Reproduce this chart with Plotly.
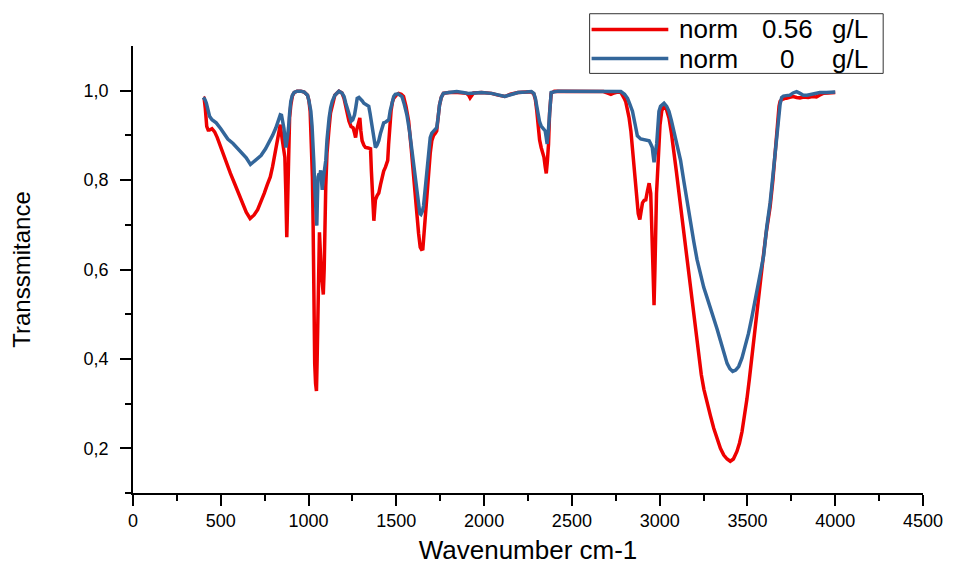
import plotly.graph_objects as go

# FTIR transmittance spectra, wavenumber (cm-1) vs normalised transmittance
wn_056 = [400, 405, 412, 420, 428, 436, 450, 465, 480, 493, 510, 531, 555, 578, 600, 625, 645, 667, 690, 710,
          730, 748, 765, 782, 795, 805, 815, 824, 832, 839, 845, 852, 860, 865, 870, 873, 876, 879, 883, 886,
          892, 899, 908, 918, 935, 956, 975, 994, 1002, 1009, 1015, 1022, 1026, 1028, 1032, 1035, 1040, 1045,
          1049, 1052, 1055, 1058, 1062, 1066, 1070, 1073, 1078, 1084, 1089, 1093, 1098, 1105, 1110, 1117, 1125,
          1135, 1150, 1173, 1190, 1202, 1215, 1230, 1242, 1254, 1262, 1268, 1273, 1277, 1285, 1292, 1298, 1305,
          1315, 1324, 1340, 1353, 1358, 1362, 1368, 1372, 1376, 1381, 1390, 1400, 1410, 1419, 1428, 1438, 1445,
          1451, 1456, 1462, 1470, 1478, 1485, 1500, 1513, 1528, 1541, 1555, 1570, 1585, 1598, 1608, 1617, 1627,
          1636, 1643, 1651, 1658, 1665, 1674, 1683, 1693, 1702, 1712, 1722, 1730, 1738, 1746, 1756, 1768, 1800,
          1850, 1900, 1912, 1920, 1928, 1940, 1985, 2042, 2080, 2118, 2150, 2193, 2240, 2269, 2283, 2292, 2300,
          2307, 2316, 2325, 2334, 2341, 2348, 2354, 2360, 2367, 2373, 2382, 2400, 2500, 2600, 2680, 2700, 2722,
          2740, 2760, 2779, 2790, 2798, 2807, 2817, 2826, 2836, 2845, 2855, 2862, 2869, 2878, 2887, 2895, 2902,
          2912, 2921, 2930, 2940, 2945, 2949, 2953, 2958, 2963, 2968, 2973, 2977, 2982, 2987, 2995, 3002, 3012,
          3025, 3035, 3045, 3053, 3067, 3081, 3095, 3110, 3124, 3138, 3152, 3166, 3180, 3195, 3209, 3223, 3237,
          3252, 3270, 3289, 3308, 3327, 3346, 3365, 3384, 3402, 3420, 3440, 3455, 3469, 3483, 3497, 3511, 3525,
          3540, 3554, 3568, 3582, 3592, 3606, 3618, 3629, 3645, 3658, 3670, 3680, 3686, 3695, 3714, 3723, 3740,
          3761, 3780, 3799, 3820, 3846, 3870, 3893, 3910, 3931, 3960, 3988, 4000]
t_056 = [0.985, 0.984, 0.960, 0.920, 0.912, 0.912, 0.915, 0.908, 0.895, 0.881, 0.862, 0.837, 0.815, 0.793, 0.770,
         0.745, 0.728, 0.714, 0.722, 0.734, 0.752, 0.771, 0.790, 0.807, 0.830, 0.851, 0.875, 0.895, 0.912, 0.924,
         0.905, 0.881, 0.860, 0.851, 0.780, 0.700, 0.672, 0.720, 0.830, 0.881, 0.940, 0.968, 0.988, 0.996, 0.999,
         0.999, 0.997, 0.990, 0.978, 0.954, 0.900, 0.807, 0.700, 0.610, 0.500, 0.390, 0.345, 0.328, 0.400, 0.500,
         0.560, 0.620, 0.683, 0.650, 0.600, 0.588, 0.570, 0.544, 0.600, 0.700, 0.786, 0.860, 0.900, 0.917, 0.950,
         0.968, 0.990, 0.999, 0.995, 0.983, 0.960, 0.932, 0.920, 0.917, 0.905, 0.895, 0.910, 0.917, 0.935, 0.939,
         0.910, 0.888, 0.878, 0.873, 0.872, 0.870, 0.820, 0.771, 0.730, 0.709, 0.730, 0.756, 0.765, 0.771, 0.790,
         0.807, 0.820, 0.829, 0.835, 0.844, 0.880, 0.917, 0.955, 0.975, 0.983, 0.990, 0.994, 0.992, 0.987, 0.965,
         0.932, 0.870, 0.807, 0.760, 0.720, 0.680, 0.650, 0.645, 0.646, 0.680, 0.720, 0.770, 0.822, 0.860, 0.888,
         0.900, 0.905, 0.910, 0.940, 0.968, 0.985, 0.994, 0.996, 0.996, 0.994, 0.990, 0.984, 0.990, 0.995, 0.996,
         0.994, 0.990, 0.987, 0.992, 0.996, 0.997, 0.997, 0.993, 0.980, 0.955, 0.917, 0.890, 0.873, 0.860, 0.851,
         0.830, 0.815, 0.840, 0.881, 0.950, 0.994, 0.999, 0.999, 0.999, 0.998, 0.995, 0.992, 0.995, 0.997, 0.996,
         0.990, 0.983, 0.975, 0.960, 0.939, 0.910, 0.865, 0.830, 0.790, 0.749, 0.725, 0.712, 0.730, 0.749, 0.755,
         0.756, 0.775, 0.793, 0.780, 0.771, 0.720, 0.625, 0.560, 0.520, 0.600, 0.720, 0.770, 0.807, 0.870, 0.924,
         0.955, 0.966, 0.963, 0.952, 0.939, 0.905, 0.866, 0.820, 0.771, 0.727, 0.683, 0.635, 0.588, 0.545, 0.500,
         0.452, 0.405, 0.365, 0.332, 0.300, 0.273, 0.245, 0.222, 0.200, 0.185, 0.176, 0.171, 0.176, 0.193, 0.212,
         0.237, 0.270, 0.310, 0.355, 0.405, 0.460, 0.515, 0.560, 0.603, 0.635, 0.680, 0.710, 0.740, 0.800, 0.866,
         0.930, 0.965, 0.976, 0.980, 0.983, 0.983, 0.985, 0.987, 0.985, 0.984, 0.986, 0.985, 0.987, 0.986, 0.990,
         0.994, 0.995, 0.997, 0.996]

wn_0 = [400, 410, 418, 428, 436, 450, 474, 500, 520, 540, 570, 597, 620, 645, 669, 690, 710, 729, 755, 776,
        795, 814, 828, 839, 846, 852, 860, 866, 871, 876, 880, 886, 892, 899, 908, 918, 935, 956, 975, 994,
        1002, 1013, 1020, 1026, 1030, 1035, 1040, 1044, 1047, 1050, 1054, 1060, 1065, 1069, 1074, 1078, 1083,
        1090, 1098, 1105, 1110, 1117, 1126, 1135, 1150, 1173, 1190, 1202, 1212, 1224, 1235, 1243, 1252, 1262,
        1270, 1277, 1287, 1296, 1306, 1315, 1330, 1343, 1350, 1356, 1362, 1370, 1376, 1381, 1390, 1400, 1410,
        1419, 1428, 1440, 1450, 1457, 1465, 1475, 1485, 1494, 1510, 1520, 1532, 1545, 1560, 1575, 1589, 1598,
        1608, 1618, 1627, 1634, 1640, 1648, 1655, 1665, 1674, 1684, 1693, 1702, 1712, 1722, 1730, 1738, 1746,
        1756, 1768, 1800, 1844, 1880, 1910, 1950, 1985, 2042, 2080, 2118, 2150, 2193, 2240, 2269, 2283, 2292,
        2300, 2307, 2316, 2325, 2335, 2348, 2354, 2359, 2366, 2373, 2382, 2420, 2500, 2609, 2700, 2779, 2800,
        2817, 2830, 2845, 2860, 2873, 2892, 2910, 2925, 2940, 2950, 2958, 2963, 2968, 2975, 2983, 2990, 2996,
        3005, 3015, 3025, 3040, 3053, 3067, 3081, 3100, 3119, 3138, 3157, 3176, 3195, 3213, 3232, 3251, 3270,
        3289, 3308, 3327, 3346, 3365, 3384, 3400, 3416, 3433, 3450, 3469, 3487, 3506, 3525, 3544, 3563, 3580,
        3592, 3610, 3629, 3645, 3658, 3668, 3676, 3686, 3695, 3705, 3720, 3742, 3760, 3780, 3800, 3818, 3840,
        3856, 3880, 3912, 3950, 3988, 4000]
t_0 = [0.985, 0.980, 0.972, 0.955, 0.943, 0.935, 0.928, 0.915, 0.905, 0.892, 0.882, 0.870, 0.862, 0.850, 0.835,
       0.842, 0.848, 0.855, 0.870, 0.884, 0.900, 0.917, 0.935, 0.946, 0.945, 0.935, 0.915, 0.890, 0.873, 0.885,
       0.910, 0.917, 0.950, 0.976, 0.990, 0.996, 0.999, 0.999, 0.997, 0.990, 0.978, 0.954, 0.920, 0.880, 0.840,
       0.786, 0.740, 0.710, 0.698, 0.750, 0.807, 0.815, 0.812, 0.822, 0.800, 0.778, 0.800, 0.825, 0.844, 0.890,
       0.920, 0.939, 0.962, 0.976, 0.990, 0.999, 0.995, 0.987, 0.972, 0.954, 0.940, 0.932, 0.935, 0.946, 0.965,
       0.983, 0.985, 0.982, 0.977, 0.972, 0.968, 0.965, 0.950, 0.935, 0.917, 0.895, 0.878, 0.873, 0.878, 0.888,
       0.905, 0.920, 0.928, 0.930, 0.933, 0.935, 0.955, 0.976, 0.987, 0.992, 0.993, 0.990, 0.987, 0.970, 0.946,
       0.910, 0.866, 0.830, 0.793, 0.760, 0.734, 0.725, 0.723, 0.730, 0.742, 0.785, 0.822, 0.860, 0.895, 0.905,
       0.910, 0.913, 0.917, 0.940, 0.968, 0.985, 0.994, 0.996, 0.998, 0.996, 0.994, 0.995, 0.996, 0.994, 0.990,
       0.987, 0.991, 0.996, 0.997, 0.998, 0.994, 0.983, 0.965, 0.946, 0.930, 0.921, 0.915, 0.910, 0.895, 0.881,
       0.910, 0.954, 0.996, 0.999, 0.999, 0.999, 0.999, 0.998, 0.992, 0.983, 0.970, 0.954, 0.925, 0.899, 0.892,
       0.891, 0.890, 0.888, 0.880, 0.873, 0.855, 0.840, 0.860, 0.881, 0.920, 0.954, 0.965, 0.970, 0.972, 0.965,
       0.954, 0.933, 0.910, 0.880, 0.844, 0.797, 0.749, 0.705, 0.661, 0.622, 0.588, 0.560, 0.537, 0.515, 0.493,
       0.467, 0.441, 0.415, 0.390, 0.378, 0.372, 0.375, 0.383, 0.402, 0.427, 0.457, 0.493, 0.532, 0.573, 0.610,
       0.630, 0.695, 0.749, 0.810, 0.866, 0.910, 0.946, 0.970, 0.985, 0.988, 0.989, 0.990, 0.995, 0.998, 0.994,
       0.990, 0.990, 0.991, 0.994, 0.996, 0.996, 0.998, 0.997]

y_tickvals = [0.2, 0.4, 0.6, 0.8, 1.0]
y_ticktext = ["0,2", "0,4", "0,6", "0,8", "1,0"]

RED = "#EE0000"
BLUE = "#33669A"
FONT = "Liberation Sans, Arial, sans-serif"

fig = go.Figure()
fig.add_trace(go.Scatter(x=wn_056, y=t_056, mode="lines", name="norm 0.56 g/L",
                         line=dict(color=RED, width=3.5)))
fig.add_trace(go.Scatter(x=wn_0, y=t_0, mode="lines", name="norm 0 g/L",
                         line=dict(color=BLUE, width=3.5)))

axis_common = dict(
    showgrid=False, zeroline=False, showline=True, linecolor="black", linewidth=1.5,
    ticks="outside", ticklen=11, tickwidth=1.5, tickcolor="black",
    tickfont=dict(family=FONT, size=18, color="black"),
    minor=dict(ticks="outside", ticklen=6, tickwidth=1.5, tickcolor="black"),
)

fig.update_xaxes(range=[0, 4500], dtick=500, tick0=0, minor_dtick=250,
                 title=dict(text="Wavenumber cm-1", font=dict(family=FONT, size=26, color="black"), standoff=10),
                 **axis_common)
fig.update_yaxes(range=[0.1, 1.1], tickvals=y_tickvals, ticktext=y_ticktext,
                 minor_tickvals=[0.1, 0.3, 0.5, 0.7, 0.9],
                 title=dict(text="Transsmitance", font=dict(family=FONT, size=24, color="black"), standoff=46),
                 ticklabelstandoff=8,
                 **axis_common)

# Legend box drawn in paper coordinates
legend_rows = [("0.56", RED, 1.037), ("0", BLUE, 0.972)]
shapes = [dict(type="rect", xref="paper", yref="paper", x0=0.578, x1=0.9496, y0=0.9387, y1=1.0722,
               line=dict(color="#333333", width=1), fillcolor="white", layer="above")]
annotations = []
for val, col, yy in legend_rows:
    shapes.append(dict(type="line", xref="paper", yref="paper", x0=0.5805, x1=0.6776, y0=yy, y1=yy,
                       line=dict(color=col, width=3.5), layer="above"))
    for txt, xx, anchor in (("norm", 0.6889, "left"), (val, 0.8280, "center"), ("g/L", 0.8820, "left")):
        annotations.append(dict(text=txt, xref="paper", yref="paper", x=xx, y=yy, xanchor=anchor,
                                yanchor="middle", showarrow=False,
                                font=dict(family=FONT, size=26, color="black")))

fig.update_layout(
    width=955, height=572,
    margin=dict(l=133, r=28, t=46, b=69),
    paper_bgcolor="white", plot_bgcolor="white",
    showlegend=False,
    shapes=shapes, annotations=annotations,
)

fig.write_html("out.html")
